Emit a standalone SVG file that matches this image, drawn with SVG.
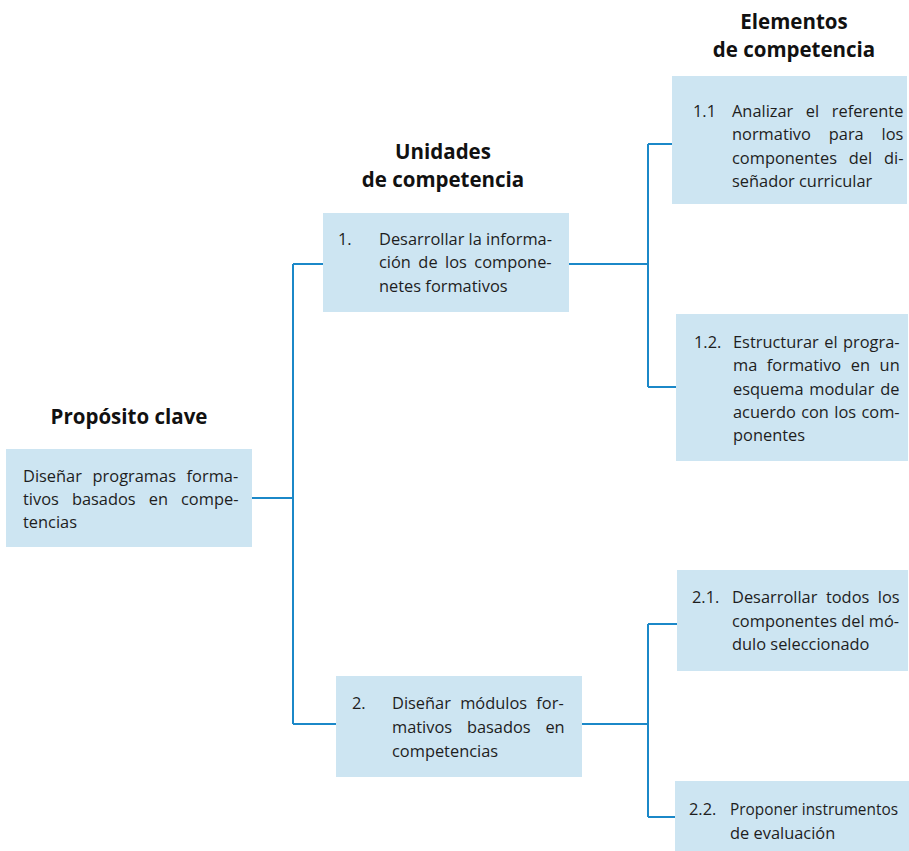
<svg xmlns="http://www.w3.org/2000/svg" width="909" height="851" viewBox="0 0 909 851">
<style>
.box{fill:#cde5f2;}
.t{font-family:"Open Sans","Liberation Sans",sans-serif;font-size:16.4px;fill:#1e1e1e;}
.h{font-family:"Open Sans","Liberation Sans",sans-serif;font-size:20.5px;font-weight:bold;fill:#111;text-anchor:middle;}
.c{fill:none;stroke:#1b88c8;stroke-width:2;}
</style>
<rect width="909" height="851" fill="#fff"/>
<g id="headers">
<text class="h" x="129" y="424">Propósito clave</text>
<text class="h" x="443" y="159">Unidades</text>
<text class="h" x="443" y="187">de competencia</text>
<text class="h" x="794" y="29">Elementos</text>
<text class="h" x="794" y="57">de competencia</text>
</g>
<g id="connectors">
<path class="c" d="M252,498H293M293,264V724M293,264H323M293,724H336"/>
<path class="c" d="M569,264H648M648,144V387M648,144H672M648,387H676"/>
<path class="c" d="M582,724H648M648,624V817M648,624H677M648,817H675"/>
</g>
<g id="proposito">
<rect class="box" x="6" y="449" width="246" height="98"/>
<text class="t" x="23" y="482" word-spacing="6.4">Diseñar programas forma-</text>
<text class="t" x="23" y="505" word-spacing="8.8">tivos basados en compe-</text>
<text class="t" x="23" y="528">tencias</text>
</g>
<g id="unidad1">
<rect class="box" x="323" y="213" width="246" height="99"/>
<text class="t" x="338" y="245">1.</text>
<text class="t" x="379" y="245">Desarrollar la informa-</text>
<text class="t" x="379" y="268" word-spacing="3.2">ción de los compone-</text>
<text class="t" x="379" y="292">netes formativos</text>
</g>
<g id="unidad2">
<rect class="box" x="336" y="676" width="246" height="101"/>
<text class="t" x="352" y="709">2.</text>
<text class="t" x="392" y="709" word-spacing="5">Diseñar módulos for-</text>
<text class="t" x="392" y="733" word-spacing="10.5">mativos basados en</text>
<text class="t" x="392" y="757">competencias</text>
</g>
<g id="elemento11">
<rect class="box" x="672" y="76" width="235" height="128"/>
<text class="t" x="693" y="117">1.1</text>
<text class="t" x="732" y="117" word-spacing="8.3">Analizar el referente</text>
<text class="t" x="732" y="140" word-spacing="13.6">normativo para los</text>
<text class="t" x="732" y="164" word-spacing="7.6">componentes del di-</text>
<text class="t" x="732" y="187">señador curricular</text>
</g>
<g id="elemento12">
<rect class="box" x="676" y="314" width="232" height="147"/>
<text class="t" x="694" y="348">1.2.</text>
<text class="t" x="733" y="348" word-spacing="1.2">Estructurar el progra-</text>
<text class="t" x="733" y="371" word-spacing="5.3">ma formativo en un</text>
<text class="t" x="733" y="394.5" word-spacing="1.5">esquema modular de</text>
<text class="t" x="733" y="418" word-spacing="1.1">acuerdo con los com-</text>
<text class="t" x="733" y="441">ponentes</text>
</g>
<g id="elemento21">
<rect class="box" x="677" y="570" width="231" height="101"/>
<text class="t" x="692" y="603">2.1.</text>
<text class="t" x="732" y="603" word-spacing="4.3">Desarrollar todos los</text>
<text class="t" x="732" y="627">componentes del mó-</text>
<text class="t" x="732" y="650">dulo seleccionado</text>
</g>
<g id="elemento22">
<rect class="box" x="675" y="781" width="234" height="70"/>
<text class="t" x="689" y="815">2.2.</text>
<text class="t" x="730" y="815" textLength="168" lengthAdjust="spacingAndGlyphs">Proponer instrumentos</text>
<text class="t" x="730" y="839">de evaluación</text>
</g>
</svg>
